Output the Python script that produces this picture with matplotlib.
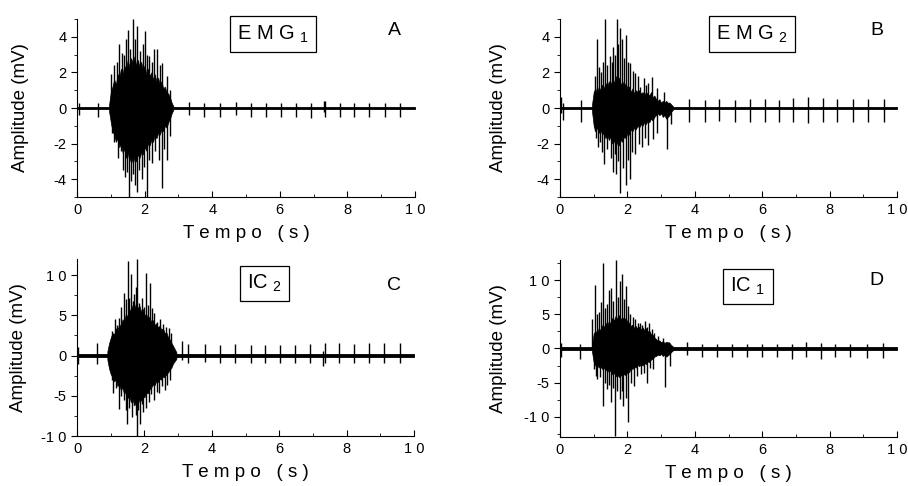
# EMG / IC recordings - four panels
import matplotlib.pyplot as plt
from matplotlib.ticker import MultipleLocator

plt.rcParams['font.family'] = ['Liberation Sans', 'DejaVu Sans']
plt.rcParams['mathtext.fontset'] = 'custom'
plt.rcParams['mathtext.rm'] = 'Liberation Sans'

# ---------------- Panel A : EMG1 ----------------
a_core_t = [0.95, 1.00, 1.05, 1.10, 1.15, 1.20, 1.25, 1.30, 1.35, 1.40,
            1.45, 1.50, 1.55, 1.60, 1.65, 1.70, 1.75, 1.80, 1.85, 1.90,
            1.95, 2.00, 2.05, 2.10, 2.15, 2.20, 2.25, 2.30, 2.35, 2.40,
            2.45, 2.50, 2.55, 2.60, 2.65, 2.70, 2.75, 2.80, 2.85]
a_core_hi = [0.2, 0.9, 1.2, 1.6, 1.3, 1.9, 1.7, 2.2, 1.9, 2.4,
             2.1, 2.7, 2.3, 2.8, 2.5, 2.9, 2.4, 2.7, 2.3, 2.6,
             2.1, 2.4, 1.9, 2.2, 1.8, 2.0, 1.6, 1.9, 1.5, 1.7,
             1.3, 1.5, 1.1, 1.2, 0.9, 0.8, 0.6, 0.3, 0.1]
a_core_lo = [-0.2, -0.8, -1.3, -1.5, -1.9, -1.7, -2.2, -2.0, -2.5, -2.3,
             -2.8, -2.5, -3.0, -2.7, -3.1, -2.8, -3.0, -2.6, -2.8, -2.5,
             -2.6, -2.2, -2.4, -2.0, -2.1, -1.8, -1.9, -1.5, -1.7, -1.4,
             -1.5, -1.2, -1.3, -1.0, -1.1, -0.8, -0.6, -0.3, -0.1]
a_up_t = [1.02, 1.10, 1.17, 1.24, 1.32, 1.40, 1.46, 1.52, 1.58, 1.67, 1.73, 1.78, 1.86, 1.94, 2.02, 2.08, 2.14, 2.22, 2.28, 2.38, 2.45, 2.52, 2.65, 2.75]
a_up_v = [1.9, 2.4, 2.6, 3.6, 3.1, 3.0, 3.9, 4.4, 3.3, 5.0, 3.9, 4.6, 3.2, 3.6, 4.3, 3.0, 2.9, 2.6, 3.3, 3.3, 2.4, 2.5, 1.8, 1.0]
a_dn_t = [1.05, 1.10, 1.20, 1.30, 1.36, 1.42, 1.48, 1.53, 1.60, 1.67, 1.72, 1.78, 1.84, 1.91, 1.98, 2.06, 2.13, 2.21, 2.30, 2.42, 2.51, 2.58, 2.65, 2.75]
a_dn_v = [-1.4, -1.9, -2.8, -2.4, -3.5, -3.9, -3.6, -5.0, -4.1, -3.7, -4.3, -4.7, -3.5, -4.0, -3.3, -5.0, -2.9, -3.1, -2.4, -2.9, -4.5, -2.3, -2.9, -1.6]
a_base = 0.05
a_sp_t = [0.05, 0.61, 3.30, 3.76, 4.23, 4.70, 5.14, 5.59, 6.03, 6.49, 6.91, 7.30, 7.34, 7.77, 8.21, 8.65, 9.12, 9.57]
a_sp_hi = [0.3, 0.3, 0.35, 0.3, 0.3, 0.35, 0.3, 0.3, 0.3, 0.3, 0.3, 0.4, 0.4, 0.3, 0.3, 0.3, 0.3, 0.3]
a_sp_lo = [-0.4, -0.5, -0.4, -0.5, -0.5, -0.4, -0.5, -0.5, -0.5, -0.5, -0.55, -0.25, -0.5, -0.5, -0.5, -0.5, -0.5, -0.5]

# ---------------- Panel B : EMG2 ----------------
b_core_t = [0.95, 1.00, 1.05, 1.10, 1.15, 1.20, 1.25, 1.30, 1.35, 1.40,
            1.45, 1.50, 1.55, 1.60, 1.65, 1.70, 1.75, 1.80, 1.85, 1.90,
            1.95, 2.00, 2.05, 2.10, 2.15, 2.20, 2.25, 2.30, 2.35, 2.40,
            2.45, 2.50, 2.55, 2.60, 2.65, 2.70, 2.75, 2.80, 2.85, 2.90,
            2.95, 3.00, 3.05, 3.10, 3.15, 3.20, 3.25, 3.30, 3.35]
b_core_hi = [0.2, 0.9, 1.1, 0.8, 1.2, 1.0, 1.3, 1.1, 1.4, 1.2,
             1.5, 1.3, 1.6, 1.4, 1.8, 1.5, 1.7, 1.3, 1.5, 1.2,
             1.4, 1.1, 1.2, 0.9, 1.1, 0.8, 1.0, 0.9, 1.0, 0.8,
             0.9, 0.7, 0.9, 0.8, 0.7, 0.9, 0.6, 0.7, 0.5, 0.4,
             0.5, 0.3, 0.4, 0.3, 0.4, 0.3, 0.3, 0.2, 0.1]
b_core_lo = [-0.2, -1.0, -1.3, -1.1, -1.4, -1.2, -1.5, -1.4, -1.7, -1.5,
             -1.8, -1.6, -2.0, -1.8, -2.2, -1.9, -2.1, -1.8, -1.9, -1.6,
             -1.7, -1.4, -1.5, -1.2, -1.3, -1.1, -1.2, -1.0, -1.1, -0.9,
             -1.0, -0.8, -0.9, -0.7, -0.8, -0.6, -0.7, -0.5, -0.4, -0.3,
             -0.4, -0.3, -0.5, -0.4, -0.6, -0.5, -0.4, -0.2, -0.1]
b_up_t = [1.03, 1.09, 1.15, 1.21, 1.27, 1.33, 1.40, 1.47, 1.53, 1.58, 1.64, 1.68, 1.73, 1.78, 1.85, 1.91, 1.96, 2.03, 2.09, 2.17, 2.24, 2.30, 2.37, 2.49, 2.56, 2.62, 2.74, 2.87, 3.08]
b_up_v = [1.8, 3.9, 2.3, 2.05, 2.6, 5.0, 2.4, 2.9, 2.6, 3.4, 3.0, 5.0, 3.6, 4.5, 3.85, 2.8, 4.1, 2.6, 2.5, 2.1, 1.95, 1.8, 1.2, 1.67, 1.3, 1.38, 1.76, 1.1, 0.9]
b_dn_t = [1.03, 1.08, 1.14, 1.20, 1.26, 1.32, 1.40, 1.50, 1.57, 1.62, 1.67, 1.72, 1.78, 1.86, 1.95, 2.02, 2.07, 2.15, 2.24, 2.33, 2.44, 2.53, 2.62, 2.76, 2.89, 3.18, 3.28]
b_dn_v = [-1.27, -1.7, -2.2, -1.9, -2.5, -3.17, -2.3, -2.8, -3.6, -2.6, -3.7, -3.0, -4.8, -3.35, -4.3, -2.9, -4.0, -2.5, -2.6, -2.0, -2.2, -1.7, -2.1, -1.75, -1.4, -2.3, -0.9]
b_base = 0.06
b_sp_t = [0.03, 0.10, 0.61, 3.84, 4.29, 4.73, 5.18, 5.63, 6.07, 6.49, 6.92, 7.36, 7.80, 8.22, 8.69, 9.14, 9.60]
b_sp_hi = [0.6, 0.3, 0.45, 0.5, 0.45, 0.5, 0.45, 0.5, 0.5, 0.45, 0.55, 0.6, 0.55, 0.5, 0.5, 0.5, 0.5]
b_sp_lo = [-0.3, -0.7, -0.8, -0.8, -0.8, -0.75, -0.8, -0.8, -0.8, -0.8, -0.8, -0.85, -0.8, -0.8, -0.8, -0.8, -0.8]

# ---------------- Panel C : IC2 ----------------
c_core_t = [0.90, 0.95, 1.00, 1.05, 1.10, 1.15, 1.20, 1.25, 1.30, 1.35,
            1.40, 1.45, 1.50, 1.55, 1.60, 1.65, 1.70, 1.75, 1.80, 1.85,
            1.90, 1.95, 2.00, 2.05, 2.10, 2.15, 2.20, 2.25, 2.30, 2.35,
            2.40, 2.45, 2.50, 2.55, 2.60, 2.65, 2.70, 2.75, 2.80, 2.85,
            2.90, 2.95]
c_core_hi = [0.5, 1.5, 2.2, 2.8, 2.6, 3.4, 3.1, 3.9, 3.6, 4.5,
             4.2, 5.2, 4.8, 5.8, 5.4, 6.3, 5.8, 6.5, 5.9, 6.2,
             5.5, 5.8, 5.0, 5.2, 4.6, 4.8, 4.2, 4.4, 3.8, 4.0,
             3.5, 3.7, 3.2, 3.4, 2.8, 2.9, 2.3, 2.0, 1.6, 1.2,
             0.8, 0.4]
c_core_lo = [-0.5, -1.6, -2.3, -2.7, -3.2, -3.0, -3.8, -3.5, -4.3, -4.0,
             -4.8, -4.4, -5.3, -5.0, -5.8, -5.4, -6.2, -5.7, -6.0, -5.5,
             -5.6, -5.0, -5.2, -4.6, -4.7, -4.2, -4.0, -3.6, -3.7, -3.2,
             -3.3, -2.9, -3.0, -2.6, -2.7, -2.3, -2.1, -1.8, -1.5, -1.0,
             -0.7, -0.4]
c_up_t = [1.05, 1.13, 1.19, 1.25, 1.32, 1.39, 1.45, 1.50, 1.55, 1.59, 1.65, 1.70, 1.75, 1.79, 1.85, 1.92, 1.98, 2.04, 2.10, 2.16, 2.22, 2.28, 2.37, 2.46, 2.55, 2.64, 2.72, 2.78]
c_up_v = [3.0, 4.5, 3.8, 4.7, 6.0, 7.8, 7.0, 11.75, 7.2, 10.1, 6.8, 7.6, 8.5, 12.0, 6.5, 7.2, 6.0, 10.3, 6.3, 9.0, 5.9, 5.3, 4.2, 4.5, 3.9, 3.6, 3.4, 2.8]
c_dn_t = [1.04, 1.08, 1.16, 1.25, 1.32, 1.40, 1.45, 1.49, 1.55, 1.62, 1.69, 1.74, 1.77, 1.82, 1.87, 1.93, 1.97, 2.05, 2.13, 2.20, 2.28, 2.36, 2.44, 2.52, 2.61, 2.68, 2.76]
c_dn_v = [-3.0, -4.7, -4.0, -6.6, -5.0, -5.5, -6.8, -8.5, -6.5, -7.6, -6.2, -7.4, -10.1, -6.8, -8.5, -6.0, -7.0, -6.5, -5.75, -4.8, -5.5, -4.5, -4.7, -3.8, -4.3, -3.6, -3.0]
c_base = 0.15
c_sp_t = [0.04, 0.60, 3.13, 3.30, 3.79, 4.24, 4.70, 5.15, 5.57, 6.02, 6.46, 6.91, 7.30, 7.35, 7.78, 8.22, 8.66, 9.11, 9.58]
c_sp_hi = [1.1, 1.6, 1.8, 1.4, 1.4, 1.3, 1.4, 1.3, 1.3, 1.3, 1.3, 1.4, 0.6, 1.5, 1.5, 1.4, 1.5, 1.6, 1.5]
c_sp_lo = [-1.0, -1.0, -0.6, -0.9, -0.8, -0.9, -0.9, -0.9, -0.9, -0.9, -0.9, -0.9, -1.3, -0.9, -0.9, -0.9, -0.9, -0.9, -0.9]

# ---------------- Panel D : IC1 ----------------
d_core_t = [0.95, 1.00, 1.05, 1.10, 1.15, 1.20, 1.25, 1.30, 1.35, 1.40,
            1.45, 1.50, 1.55, 1.60, 1.65, 1.70, 1.75, 1.80, 1.85, 1.90,
            1.95, 2.00, 2.05, 2.10, 2.15, 2.20, 2.25, 2.30, 2.35, 2.40,
            2.45, 2.50, 2.55, 2.60, 2.65, 2.70, 2.75, 2.80, 2.85, 2.90,
            2.95, 3.00, 3.05, 3.10, 3.15, 3.20, 3.25, 3.30, 3.35]
d_core_hi = [0.5, 2.2, 2.6, 2.2, 3.0, 2.7, 3.4, 3.1, 3.8, 3.4,
             4.0, 3.7, 4.5, 4.1, 4.8, 4.4, 4.9, 4.3, 4.6, 4.2,
             4.5, 3.9, 3.8, 3.3, 3.5, 3.0, 3.3, 2.9, 3.2, 2.8,
             3.1, 2.7, 3.0, 2.5, 2.6, 2.1, 2.0, 1.6, 1.4, 1.1,
             1.2, 0.9, 1.1, 0.8, 1.0, 0.9, 0.8, 0.5, 0.3]
d_core_lo = [-0.5, -2.0, -2.5, -2.3, -2.8, -2.6, -3.0, -2.8, -3.2, -3.0,
             -3.5, -3.2, -3.8, -3.5, -4.1, -3.8, -4.2, -3.9, -4.1, -3.7,
             -4.0, -3.4, -3.5, -2.9, -3.0, -2.6, -2.8, -2.4, -2.6, -2.3,
             -2.5, -2.1, -2.3, -1.9, -2.0, -1.6, -1.5, -1.2, -1.1, -0.9,
             -1.0, -0.8, -1.1, -0.9, -1.2, -1.0, -0.8, -0.5, -0.3]
d_up_t = [0.96, 1.04, 1.10, 1.16, 1.22, 1.27, 1.33, 1.40, 1.45, 1.50, 1.56, 1.65, 1.71, 1.77, 1.85, 1.90, 1.95, 2.01, 2.08, 2.16, 2.24, 2.30, 2.37, 2.44, 2.51, 2.58, 2.64, 2.72, 2.79, 2.92, 3.06, 3.23]
d_up_v = [4.3, 9.4, 5.0, 5.3, 6.8, 12.6, 6.0, 6.5, 8.6, 8.9, 7.0, 13.0, 7.5, 9.9, 10.9, 7.2, 9.2, 6.2, 5.0, 4.6, 4.3, 3.7, 3.8, 3.4, 4.0, 3.2, 3.8, 2.8, 2.3, 1.8, 1.6, 0.9]
d_dn_t = [1.01, 1.06, 1.11, 1.18, 1.27, 1.33, 1.40, 1.46, 1.52, 1.58, 1.64, 1.70, 1.77, 1.83, 1.88, 1.95, 2.02, 2.10, 2.19, 2.28, 2.39, 2.48, 2.59, 2.68, 2.76, 3.13, 3.26]
d_dn_v = [-3.0, -4.0, -4.5, -4.2, -8.4, -5.0, -6.0, -5.3, -7.9, -5.8, -12.9, -6.3, -7.4, -6.2, -8.4, -7.3, -10.8, -5.0, -5.5, -4.0, -3.8, -3.6, -5.0, -2.8, -3.0, -5.7, -2.5]
d_base = 0.18
d_sp_t = [0.04, 0.58, 3.77, 4.22, 4.66, 5.11, 5.55, 6.00, 6.45, 6.89, 7.31, 7.73, 8.17, 8.62, 9.11, 9.58]
d_sp_hi = [0.8, 0.6, 0.9, 0.7, 0.7, 0.7, 0.7, 0.7, 0.7, 0.7, 0.9, 0.8, 0.7, 0.7, 0.7, 0.8]
d_sp_lo = [-1.2, -1.5, -1.0, -1.2, -1.2, -1.3, -1.2, -1.2, -1.2, -1.5, -1.3, -1.5, -1.3, -1.3, -1.4, -1.4]


def draw_signal(ax, core_t, core_hi, core_lo, up_t, up_v, dn_t, dn_v,
                base, sp_t, sp_hi, sp_lo):
    # resting noise band over the whole record
    ax.fill_between([0, 10], [-base, -base], [base, base], color='black', lw=0.6)
    # periodic small spikes
    ax.vlines(sp_t, sp_lo, sp_hi, color='black', lw=1.0)
    # dense part of the burst
    ax.fill_between(core_t, core_lo, core_hi, color='black', lw=0.5)
    # individual large spikes
    ax.vlines(up_t, 0, up_v, color='black', lw=1.0)
    ax.vlines(dn_t, dn_v, 0, color='black', lw=1.0)


def style_axes(ax, ylim, ymin, yticks, ylabels, ylab_x):
    ax.set_xlim(0, 10)
    ax.set_ylim(*ylim)
    ax.spines['top'].set_visible(False)
    ax.spines['right'].set_visible(False)
    ax.set_xticks([0, 2, 4, 6, 8, 10])
    ax.set_xticklabels(['0', '2', '4', '6', '8', '1 0'])
    ax.xaxis.set_minor_locator(MultipleLocator(1))
    ax.set_yticks(yticks)
    ax.set_yticklabels(ylabels)
    ax.yaxis.set_minor_locator(MultipleLocator(ymin))
    ax.tick_params(axis='x', which='both', direction='in', labelsize=10.5, pad=4)
    ax.tick_params(axis='x', which='major', length=4)
    ax.tick_params(axis='x', which='minor', length=2.5)
    ax.tick_params(axis='y', which='both', direction='out', labelsize=10.5)
    ax.tick_params(axis='y', which='major', length=4)
    ax.tick_params(axis='y', which='minor', length=2.5)
    ax.set_xlabel('T e m p o   ( s )', fontsize=13.5, labelpad=6)
    ax.set_ylabel('Amplitude (mV)', fontsize=13.5)
    ax.yaxis.set_label_coords(ylab_x, 0.5)


fig = plt.figure(figsize=(9.08, 4.86), dpi=100)
axA = fig.add_axes([77 / 908, 1 - 197 / 486, 338 / 908, 178 / 486])
axB = fig.add_axes([560 / 908, 1 - 197 / 486, 337 / 908, 178 / 486])
axC = fig.add_axes([77 / 908, 1 - 436 / 486, 337 / 908, 177 / 486])
axD = fig.add_axes([560 / 908, 1 - 437 / 486, 337 / 908, 177 / 486])

draw_signal(axA, a_core_t, a_core_hi, a_core_lo, a_up_t, a_up_v, a_dn_t, a_dn_v,
            a_base, a_sp_t, a_sp_hi, a_sp_lo)
draw_signal(axB, b_core_t, b_core_hi, b_core_lo, b_up_t, b_up_v, b_dn_t, b_dn_v,
            b_base, b_sp_t, b_sp_hi, b_sp_lo)
draw_signal(axC, c_core_t, c_core_hi, c_core_lo, c_up_t, c_up_v, c_dn_t, c_dn_v,
            c_base, c_sp_t, c_sp_hi, c_sp_lo)
draw_signal(axD, d_core_t, d_core_hi, d_core_lo, d_up_t, d_up_v, d_dn_t, d_dn_v,
            d_base, d_sp_t, d_sp_hi, d_sp_lo)

small = [-4, -2, 0, 2, 4]
small_lab = ['-4', '-2', '0', '2', '4']
big = [-10, -5, 0, 5, 10]
big_lab = ['-1 0', '-5', '0', '5', '1 0']
style_axes(axA, (-5, 5), 1, small, small_lab, -0.142)
style_axes(axB, (-5, 5), 1, small, small_lab, -0.157)
style_axes(axC, (-10, 12), 2.5, big, big_lab, -0.148)
style_axes(axD, (-13, 13), 2.5, big, big_lab, -0.157)

# boxed channel names and panel letters
box = dict(boxstyle='square,pad=0.35', facecolor='white', edgecolor='black', lw=0.9)
axA.text(0.58, 0.915, r'E M G $_\mathregular{1}$', transform=axA.transAxes,
         ha='center', va='center', fontsize=14.5, bbox=box)
axB.text(0.57, 0.915, r'E M G $_\mathregular{2}$', transform=axB.transAxes,
         ha='center', va='center', fontsize=14.5, bbox=box)
axC.text(0.556, 0.86, r'IC $_\mathregular{2}$', transform=axC.transAxes,
         ha='center', va='center', fontsize=14.5, bbox=box)
axD.text(0.558, 0.85, r'IC $_\mathregular{1}$', transform=axD.transAxes,
         ha='center', va='center', fontsize=14.5, bbox=box)

for ax, letter, y in [(axA, 'A', 0.935), (axB, 'B', 0.935), (axC, 'C', 0.853), (axD, 'D', 0.887)]:
    ax.text(0.94, y, letter, transform=ax.transAxes, ha='center', va='center', fontsize=14)

fig.savefig('out.png', dpi=100)
